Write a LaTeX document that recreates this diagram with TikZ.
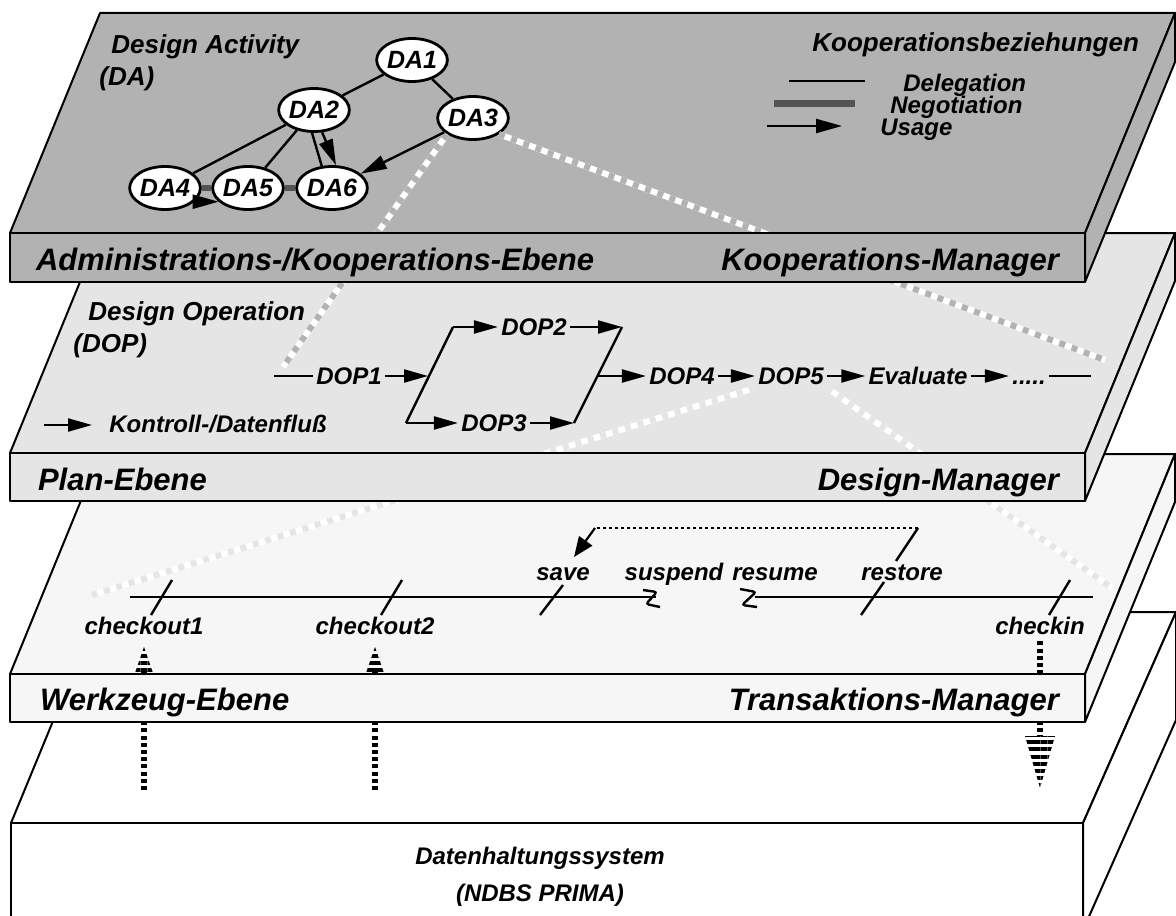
\documentclass[tikz,border=0pt]{standalone}
\usepackage{fontspec}
\setmainfont{Liberation Sans}
\usetikzlibrary{arrows.meta, shapes.geometric, patterns.meta}

\definecolor{kooplayer}{gray}{0.70}
\definecolor{planlayer}{gray}{0.90}
\definecolor{toollayer}{gray}{0.965}
\definecolor{negogray}{gray}{0.33}

\begin{document}
\begin{tikzpicture}[x=0.5pt, y=-0.5pt,
    every node/.style={font=\fontsize{12}{14}\selectfont\bfseries\itshape},
    slab/.style={draw=black, line width=1pt, line join=round},
    levelname/.style={font=\fontsize{15.5}{18}\selectfont\bfseries\itshape},
    heading/.style={font=\fontsize{13}{15}\selectfont\bfseries\itshape, anchor=base west, inner sep=0pt},
    legendtext/.style={anchor=base west, inner sep=0pt},
    danode/.style={ellipse, draw, fill=white, line width=1.4pt, minimum width=28pt, minimum height=21.5pt, inner sep=0pt, font=\fontsize{12.5}{14}\selectfont\bfseries\itshape},
    flownode/.style={text height=8.6pt, text depth=0pt, inner sep=1.5pt},
    deleg/.style={line width=1.2pt},
    nego/.style={line width=3pt, draw=negogray},
    usage/.style={line width=1.2pt, -{Triangle[length=13pt, width=7pt]}},
    flow/.style={line width=1.1pt, -{Triangle[length=12pt, width=6.5pt]}},
    projline/.style={line width=3pt, draw=#1, dash pattern=on 3pt off 3.5pt, preaction={draw=white, solid, line width=3pt}},
    dbflow/.style={line width=3pt, dash pattern=on 2pt off 1.6pt},
    stripes/.style={pattern={Lines[angle=0, distance=3.6pt, line width=2pt]}},
    dotline/.style={line width=1.1pt, dash pattern=on 1.5pt off 1.5pt},
  ]
  \useasboundingbox (0,0) rectangle (1176,915);
  \clip (0,0) rectangle (1176,915);

  % Datenhaltungssystem
  \draw[slab, fill=white] (11,823) -- (98,612) -- (1176,612) -- (1083,823) -- cycle;
  \draw[slab, fill=white] (1083,823) -- (1176,612) -- (1176,720) -- (1083,930) -- cycle;
  \draw[slab, fill=white] (11,823) rectangle (1083,930);
  \node[anchor=base] (db1) at (540,864) {Datenhaltungssystem};
  \node[anchor=base] (db2) at (540,901) {(NDBS PRIMA)};

  % Werkzeug-Ebene
  \draw[slab, fill=toollayer] (10,674) -- (100,454) -- (1175,454) -- (1085,674) -- cycle;
  \draw[slab, fill=toollayer] (1085,674) -- (1175,454) -- (1175,502) -- (1085,722) -- cycle;

  \coordinate (tl0) at (130,597);
  \coordinate (tl1) at (656,597);
  \coordinate (tl2) at (755,597);
  \coordinate (tl3) at (1093,597);
  \draw[deleg] (tl0) -- (tl1);
  \draw[deleg] (tl2) -- (tl3);
  \draw[deleg, rounded corners=1.5pt] (643,590) -- (657,592) -- (646,604) -- (660,607);
  \draw[deleg, rounded corners=1.5pt] (740,589) -- (756,592) -- (742,605) -- (757,607);

  \node[anchor=base] (co1) at (144,634) {checkout1};
  \node[anchor=base] (co2) at (375,634) {checkout2};
  \node[anchor=base] (sv) at (563,580) {save};
  \node[anchor=base] (susp) at (674,580) {suspend};
  \node[anchor=base] (resm) at (775,580) {resume};
  \node[anchor=base] (rest) at (902,580) {restore};
  \node[anchor=base] (ci) at (1040,634) {checkin};

  \draw[deleg] (172,580) -- (151,615);
  \draw[deleg] (402,580) -- (381,615);
  \draw[deleg] (563,585) -- (540,615);
  \draw[deleg] (1070,580) -- (1049,615);
  \coordinate (rs) at (918,528);
  \draw[deleg] (rs) -- (896,561);
  \draw[deleg] (884,582) -- (861,615);

  \coordinate (sb) at (595,528);
  \coordinate (svtip) at (574,557);
  \draw[dotline] (rs) -- (sb);
  \draw[line width=1.1pt, -{Triangle[length=10pt, width=8pt]}] (sb) -- (svtip);

  % Datenfluss zur Datenhaltung
  \coordinate (up1) at (144,672);
  \coordinate (bot1) at (144,790);
  \draw[dbflow] (bot1) -- (up1);
  \fill[stripes] (144,647) -- (153,673) -- (135,673) -- cycle;
  \coordinate (up2) at (375,672);
  \coordinate (bot2) at (375,790);
  \draw[dbflow] (bot2) -- (up2);
  \fill[stripes] (375,647) -- (384,673) -- (366,673) -- cycle;
  \coordinate (ciend) at (1040,736);
  \draw[dbflow] (ci.south) -- (ciend);
  \fill[stripes] (1025,736) -- (1055,736) -- (1040,788) -- cycle;

  \draw[slab, fill=toollayer] (10,674) rectangle (1085,722);
  \node[levelname, anchor=base west] (werk) at (33,710) {Werkzeug-Ebene};
  \node[levelname, anchor=base east] (tam) at (1066,710) {Transaktions-Manager};

  % Plan-Ebene
  \draw[slab, fill=planlayer] (10,453) -- (100,233) -- (1175,233) -- (1085,453) -- cycle;
  \draw[slab, fill=planlayer] (1085,453) -- (1175,233) -- (1175,281) -- (1085,501) -- cycle;

  \node[heading] (dophead) at (88,320) {Design Operation};
  \node[heading] (dopabbr) at (73,352) {(DOP)};

  \node[flownode] (dop1) at (349,376) {DOP1};
  \node[flownode] (dop2) at (534,327) {DOP2};
  \node[flownode] (dop3) at (494,423) {DOP3};
  \node[flownode] (dop4) at (682,376) {DOP4};
  \node[flownode] (dop5) at (791,376) {DOP5};
  \node[flownode] (eval) at (918,376) {Evaluate};
  \node[flownode] (dots) at (1029,376) {.....};
  \coordinate (dopin) at (274,376);
  \coordinate (dopout) at (1091,376);
  \coordinate (pa) at (453,327);
  \coordinate (pb) at (406,423);
  \coordinate (pl) at (428,376);
  \coordinate (pc) at (622,327);
  \coordinate (pd) at (574,423);
  \coordinate (pr) at (598,376);

  \draw[deleg] (dopin) -- (dop1);
  \draw[flow] (dop1) -- (pl);
  \draw[deleg] (pa) -- (pb);
  \draw[flow] (pa) -- (dop2);
  \draw[flow] (dop2) -- (pc);
  \draw[flow] (pb) -- (dop3);
  \draw[flow] (dop3) -- (pd);
  \draw[deleg] (pc) -- (pd);
  \draw[flow] (pr) -- (dop4);
  \draw[flow] (dop4) -- (dop5);
  \draw[flow] (dop5) -- (eval);
  \draw[flow] (eval) -- (dots);
  \draw[deleg] (dots) -- (dopout);

  \coordinate (kf0) at (44,425);
  \coordinate (kf1) at (92,425);
  \draw[flow] (kf0) -- (kf1);
  \node[legendtext] (kflabel) at (109,432) {Kontroll-/Datenflu\ss};

  \coordinate (tlproj0) at (92,595);
  \coordinate (tlproj1) at (1112,588);
  \draw[projline=planlayer] (dop5.south west) -- (tlproj0);
  \draw[projline=planlayer] (dop5.south east) -- (tlproj1);

  \draw[slab, fill=planlayer] (10,453) rectangle (1085,501);
  \node[levelname, anchor=base west] (plan) at (31,490) {Plan-Ebene};
  \node[levelname, anchor=base east] (dm) at (1066,490) {Design-Manager};

  % Administrations-/Kooperations-Ebene
  \draw[slab, fill=kooplayer] (10,233) -- (100,13) -- (1175,13) -- (1085,233) -- cycle;
  \draw[slab, fill=kooplayer] (1085,233) -- (1175,13) -- (1175,62) -- (1085,282) -- cycle;

  \node[heading] (dahead) at (111,54) {Design Activity};
  \node[heading] (daabbr) at (99,86) {(DA)};

  \node[danode] (DA1) at (412,60) {DA1};
  \node[danode] (DA2) at (314,110) {DA2};
  \node[danode] (DA3) at (473,118) {DA3};
  \node[danode] (DA4) at (165,188) {DA4};
  \node[danode] (DA5) at (248,188) {DA5};
  \node[danode] (DA6) at (332,188) {DA6};

  \coordinate (dopproj0) at (283,367);
  \coordinate (dopproj1) at (1105,360);
  \draw[projline=kooplayer] (DA3.south west) -- (dopproj0);
  \draw[projline=kooplayer] (DA3.south east) -- (dopproj1);

  \draw[deleg] (DA1) -- (DA2);
  \draw[deleg] (DA1) -- (DA3);
  \draw[deleg] (DA2) -- (DA4);
  \draw[deleg] (DA2) -- (DA5);
  \draw[deleg] (DA2.265) -- (DA6.115);
  \draw[usage] (DA2.290) -- (DA6.80);
  \draw[usage] (DA3) -- (DA6);
  \draw[nego] (DA4) -- (DA5);
  \draw[nego] (DA5) -- (DA6);
  \draw[usage] (DA4.335) -- (DA5.205);

  % Kooperationsbeziehungen
  \node[heading] (kbhead) at (812,52) {Kooperationsbeziehungen};
  \coordinate (lg1a) at (789,81);
  \coordinate (lg1b) at (865,81);
  \coordinate (lg2a) at (774,104);
  \coordinate (lg2b) at (855,104);
  \coordinate (lg3a) at (767,126);
  \coordinate (lg3b) at (842,126);
  \draw[deleg] (lg1a) -- (lg1b);
  \draw[nego, line width=3.5pt] (lg2a) -- (lg2b);
  \draw[usage] (lg3a) -- (lg3b);
  \node[legendtext] (lgdel) at (903,91) {Delegation};
  \node[legendtext] (lgneg) at (890,113) {Negotiation};
  \node[legendtext] (lgusg) at (880,135) {Usage};

  \draw[slab, fill=kooplayer] (10,233) rectangle (1085,282);
  \node[levelname, anchor=base west] (admin) at (29,270) {Administrations-/Kooperations-Ebene};
  \node[levelname, anchor=base east] (km) at (1066,270) {Kooperations-Manager};
\end{tikzpicture}
\end{document}
